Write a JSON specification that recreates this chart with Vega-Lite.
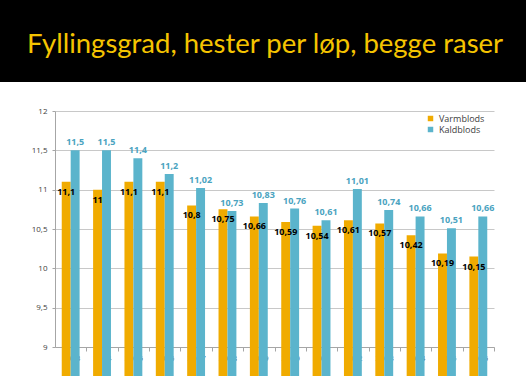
{
  "$schema": "https://vega.github.io/schema/vega-lite/v6.json",
  "padding": 0,
  "background": "white",
  "spacing": 25,
  "resolve": {"scale": {"color": "independent"}, "legend": {"color": "independent"}},
  "config": {
    "locale": {"number": {"decimal": ",", "thousands": ".", "grouping": [3], "currency": ["", " kr"]}},
    "font": "Open Sans"
  },
  "vconcat": [
    {
      "width": 526,
      "height": 82,
      "view": {"fill": "black", "stroke": null},
      "data": {"values": [{"title": "Fyllingsgrad, hester per løp, begge raser"}]},
      "mark": {"type": "text", "font": "Lato", "fontSize": 27.5, "color": "#F5C400", "align": "center", "baseline": "alphabetic", "dy": 12, "dx": 2},
      "encoding": {"text": {"field": "title", "type": "nominal"}}
    },
    {
      "spacing": 0,
      "resolve": {"scale": {"color": "independent"}, "legend": {"color": "independent"}},
      "hconcat": [
        {
          "width": 0,
          "height": 10,
          "view": {"stroke": null},
          "data": {"values": []},
          "mark": {"type": "text"},
          "encoding": {}
        },
        {
          "width": 439,
          "height": 236,
          "view": {"stroke": null},
          "data": {"values": [
            {"year": "2003", "breed": "Varmblods", "value": 11.1},
            {"year": "2003", "breed": "Kaldblods", "value": 11.5},
            {"year": "2004", "breed": "Varmblods", "value": 11.0},
            {"year": "2004", "breed": "Kaldblods", "value": 11.5},
            {"year": "2005", "breed": "Varmblods", "value": 11.1},
            {"year": "2005", "breed": "Kaldblods", "value": 11.4},
            {"year": "2006", "breed": "Varmblods", "value": 11.1},
            {"year": "2006", "breed": "Kaldblods", "value": 11.2},
            {"year": "2007", "breed": "Varmblods", "value": 10.8},
            {"year": "2007", "breed": "Kaldblods", "value": 11.02},
            {"year": "2008", "breed": "Varmblods", "value": 10.75},
            {"year": "2008", "breed": "Kaldblods", "value": 10.73},
            {"year": "2009", "breed": "Varmblods", "value": 10.66},
            {"year": "2009", "breed": "Kaldblods", "value": 10.83},
            {"year": "2010", "breed": "Varmblods", "value": 10.59},
            {"year": "2010", "breed": "Kaldblods", "value": 10.76},
            {"year": "2011", "breed": "Varmblods", "value": 10.54},
            {"year": "2011", "breed": "Kaldblods", "value": 10.61},
            {"year": "2012", "breed": "Varmblods", "value": 10.61},
            {"year": "2012", "breed": "Kaldblods", "value": 11.01},
            {"year": "2013", "breed": "Varmblods", "value": 10.57},
            {"year": "2013", "breed": "Kaldblods", "value": 10.74},
            {"year": "2014", "breed": "Varmblods", "value": 10.42},
            {"year": "2014", "breed": "Kaldblods", "value": 10.66},
            {"year": "2015", "breed": "Varmblods", "value": 10.19},
            {"year": "2015", "breed": "Kaldblods", "value": 10.51},
            {"year": "2016", "breed": "Varmblods", "value": 10.15},
            {"year": "2016", "breed": "Kaldblods", "value": 10.66}
          ]},
          "encoding": {
            "x": {
              "field": "year", "type": "nominal", "title": null,
              "scale": {"paddingInner": 0.43, "paddingOuter": 0.215},
              "axis": {"labelAngle": 0, "tickOffset": 15.68, "labelOffset": -15.68, "tickSize": 4, "tickColor": "#A6A6A6", "domainColor": "#A6A6A6", "labelFontSize": 8, "labelColor": "#404040", "labelPadding": 3, "grid": false}
            },
            "xOffset": {"field": "breed", "type": "nominal", "sort": ["Varmblods", "Kaldblods"]},
            "y": {
              "field": "value", "type": "quantitative", "title": null,
              "scale": {"domain": [9, 12], "nice": false, "zero": false},
              "axis": {"values": [9, 9.5, 10, 10.5, 11, 11.5, 12], "format": ".1~f", "gridColor": "#C8C8C8", "domainColor": "#A6A6A6", "tickColor": "#A6A6A6", "tickSize": 3, "labelFontSize": 8, "labelColor": "#404040", "labelPadding": 5, "minExtent": 35, "maxExtent": 35}
            }
          },
          "layer": [
            {
              "mark": {"type": "bar"},
              "encoding": {
                "color": {
                  "field": "breed", "type": "nominal", "title": null,
                  "sort": ["Varmblods", "Kaldblods"],
                  "scale": {"domain": ["Varmblods", "Kaldblods"], "range": ["#F0AB00", "#5BB4CC"]},
                  "legend": {"orient": "none", "legendX": 371, "legendY": 3, "symbolType": "square", "symbolSize": 30, "labelFontSize": 9, "labelColor": "#404040", "rowPadding": 1, "symbolStrokeWidth": 0}
                }
              }
            },
            {
              "transform": [{"filter": "datum.breed === 'Kaldblods'"}],
              "mark": {"type": "text", "baseline": "middle", "dy": -8, "fontSize": 9, "fontWeight": "bold", "color": "#4AA3C0"},
              "encoding": {"text": {"field": "value", "type": "quantitative", "format": ".2~f"}}
            },
            {
              "transform": [{"filter": "datum.breed === 'Varmblods'"}],
              "mark": {"type": "text", "baseline": "middle", "dy": 10, "fontSize": 9, "fontWeight": "bold", "color": "black"},
              "encoding": {"text": {"field": "value", "type": "quantitative", "format": ".2~f"}}
            }
          ]
        }
      ]
    }
  ]
}
